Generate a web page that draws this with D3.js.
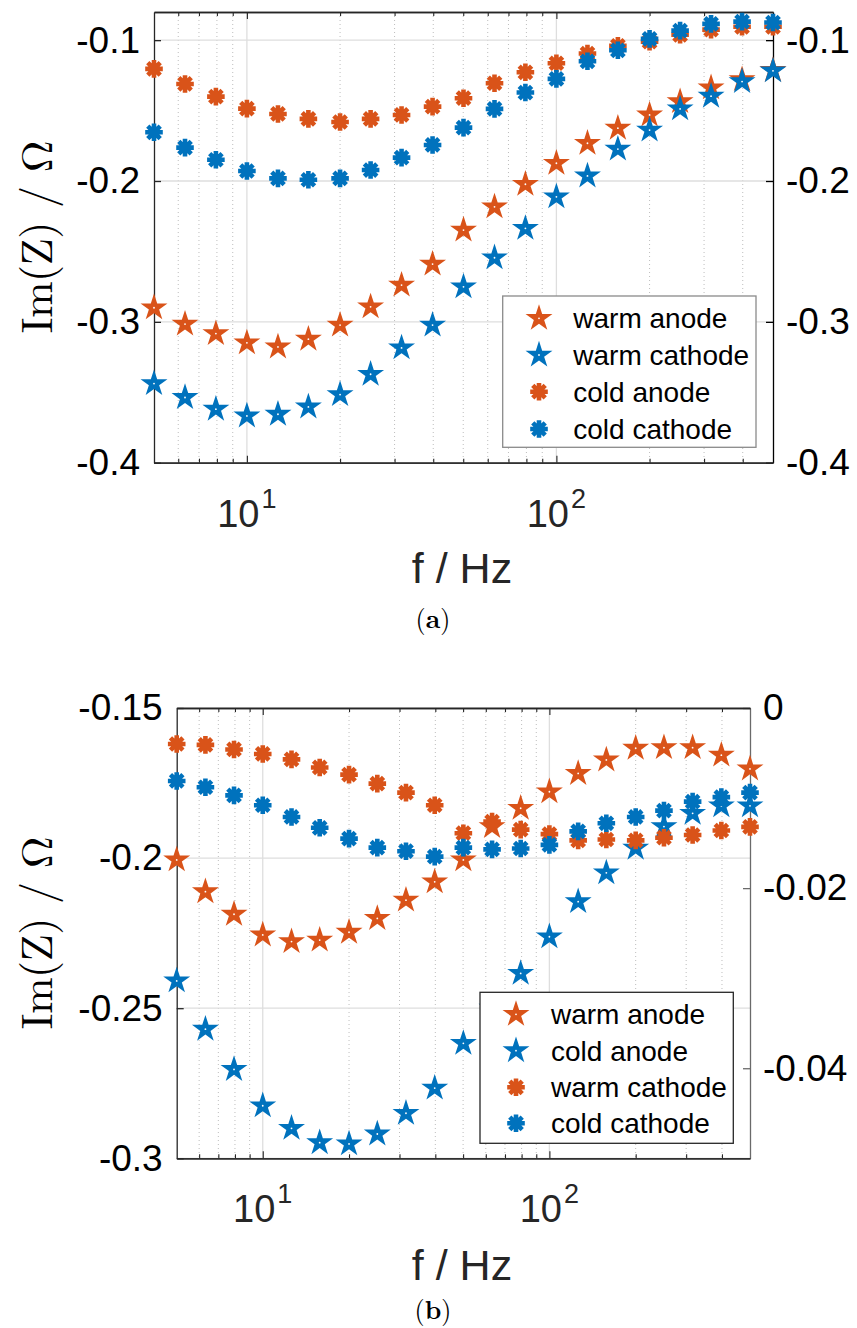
<!DOCTYPE html>
<html>
<head>
<meta charset="utf-8">
<script src="https://cdn.jsdelivr.net/npm/d3@7"></script>
<style>
  body { margin: 0; background: #fff; }
  svg { display: block; }
</style>
</head>
<body>
<svg id="chart" width="857" height="1328"></svg>
<script>
// frequencies in Hz (10 points per decade)
const freq = [5.01, 6.31, 7.94, 10, 12.6, 15.8, 20, 25.1, 31.6, 39.8, 50.1, 63.1, 79.4, 100, 126, 158, 200, 251, 316, 398, 501];

// panel (a), all on the same scale
const warmAnodeA = [-0.290, -0.3016, -0.3083, -0.3149, -0.3178, -0.3123, -0.3023, -0.2893, -0.2739, -0.259, -0.2348, -0.2183, -0.2023, -0.1874, -0.1732, -0.1625, -0.1531, -0.1436, -0.1338, -0.128, -0.1214];
const warmCathodeA = [-0.3438, -0.3537, -0.3620, -0.3668, -0.3656, -0.3604, -0.3516, -0.3372, -0.3185, -0.3023, -0.2751, -0.2545, -0.2336, -0.2112, -0.1964, -0.1773, -0.1638, -0.1488, -0.1398, -0.1294, -0.1218];
const coldAnodeA = [-0.1204, -0.1311, -0.1401, -0.1486, -0.1524, -0.1559, -0.1581, -0.1559, -0.1531, -0.1472, -0.1412, -0.1306, -0.1228, -0.1164, -0.1095, -0.1040, -0.1010, -0.0962, -0.0925, -0.0905, -0.0905];
const coldCathodeA = [-0.1654, -0.1763, -0.1849, -0.1929, -0.1981, -0.1991, -0.1981, -0.1922, -0.1834, -0.1744, -0.1621, -0.1488, -0.1372, -0.1275, -0.1150, -0.1072, -0.0991, -0.0932, -0.0884, -0.0868, -0.0875];

// panel (b), anodes on the left axis, cathodes on the right axis
const warmAnodeB = [-0.2006, -0.2112, -0.2187, -0.2256, -0.2278, -0.2273, -0.2247, -0.2201, -0.2140, -0.2079, -0.2006, -0.1895, -0.1834, -0.1779, -0.1718, -0.1673, -0.1634, -0.1632, -0.1632, -0.1657, -0.1703];
const coldAnodeB = [-0.2409, -0.2570, -0.2704, -0.2825, -0.2900, -0.2948, -0.2952, -0.2919, -0.2850, -0.2766, -0.2617, -0.2500, -0.2384, -0.2262, -0.2145, -0.2049, -0.1967, -0.1895, -0.1851, -0.1826, -0.1826];
const warmCathodeB = [-0.0040, -0.0041, -0.0046, -0.0051, -0.0057, -0.0066, -0.0074, -0.0084, -0.0094, -0.0108, -0.0139, -0.0126, -0.0135, -0.0140, -0.0147, -0.0146, -0.0147, -0.0144, -0.0141, -0.0136, -0.0132];
const coldCathodeB = [-0.0081, -0.0088, -0.0097, -0.0108, -0.0121, -0.0133, -0.0145, -0.0155, -0.0159, -0.0165, -0.0155, -0.0157, -0.0156, -0.0152, -0.0137, -0.0128, -0.0121, -0.0114, -0.0104, -0.0099, -0.0094];

const yTicksA = [-0.4, -0.3, -0.2, -0.1];
const yTicksLeftB = [-0.3, -0.25, -0.2, -0.15];
const yTicksRightB = [-0.04, -0.02, 0];
const xMajor = [10, 100];
const xMinor = [6, 7, 8, 9, 20, 30, 40, 50, 60, 70, 80, 90, 200, 300, 400];

const ORANGE = '#D95319';
const BLUE = '#0072BD';
const AXIS = '#262626';
const SANS = '"Liberation Sans", Arial, Helvetica, sans-serif';
const SERIF = '"Latin Modern Roman", "CMU Serif", "Liberation Serif", "Times New Roman", serif';

const svg = d3.select('#chart');
svg.append('rect').attr('width', 857).attr('height', 1328).attr('fill', '#fff');

function drawStar(g, x, y, color) {
  g.append('path')
    .attr('d', d3.symbol(d3.symbolStar, 225)())
    .attr('transform', `translate(${x},${y})`)
    .attr('fill', color);
  g.append('circle')
    .attr('cx', x).attr('cy', y).attr('r', 0.9)
    .attr('fill', '#fff');
}

function drawAsterisk(g, x, y, color) {
  const r = 8.8;
  const d = r * Math.SQRT1_2;
  g.append('path')
    .attr('d', `M${-r},0L${r},0M0,${-r}L0,${r}M${-d},${-d}L${d},${d}M${-d},${d}L${d},${-d}`)
    .attr('transform', `translate(${x},${y})`)
    .attr('stroke', color)
    .attr('stroke-width', 4.6)
    .attr('fill', 'none');
}

function drawPanel(cfg) {
  const g = svg.append('g');
  const x = d3.scaleLog().domain([5.01, 501]).range([cfg.left, cfg.right]);
  const yL = d3.scaleLinear().domain(cfg.leftDomain).range([cfg.bottom, cfg.top]);
  const yR = d3.scaleLinear().domain(cfg.rightDomain).range([cfg.bottom, cfg.top]);

  // grid
  g.selectAll('.minor-grid')
    .data(xMinor)
    .join('line')
    .attr('x1', (d) => x(d)).attr('x2', (d) => x(d))
    .attr('y1', cfg.top).attr('y2', cfg.bottom)
    .attr('stroke', '#bdbdbd')
    .attr('stroke-width', 1)
    .attr('stroke-dasharray', '1,3');

  g.selectAll('.major-grid-x')
    .data(xMajor)
    .join('line')
    .attr('x1', (d) => x(d)).attr('x2', (d) => x(d))
    .attr('y1', cfg.top).attr('y2', cfg.bottom)
    .attr('stroke', '#dedede')
    .attr('stroke-width', 1.3);

  g.selectAll('.major-grid-y')
    .data(cfg.leftTicks)
    .join('line')
    .attr('x1', cfg.left).attr('x2', cfg.right)
    .attr('y1', (d) => yL(d)).attr('y2', (d) => yL(d))
    .attr('stroke', '#dedede')
    .attr('stroke-width', 1.3);

  // axes, ticks pointing inwards
  const fmt = (d) => (d === 0 ? '0' : String(d));

  const leftAxis = g.append('g')
    .attr('transform', `translate(${cfg.left},0)`)
    .call(d3.axisLeft(yL).tickValues(cfg.leftTicks).tickSize(-7).tickSizeOuter(0).tickPadding(14).tickFormat(fmt));

  const rightAxis = g.append('g')
    .attr('transform', `translate(${cfg.right},0)`)
    .call(d3.axisRight(yR).tickValues(cfg.rightTicks).tickSize(-7).tickSizeOuter(0).tickPadding(13).tickFormat(fmt));

  [leftAxis, rightAxis].forEach((ax) => {
    ax.selectAll('text')
      .attr('font-family', SANS)
      .attr('font-size', 37)
      .attr('fill', '#000');
  });
  leftAxis.select('.domain').attr('stroke', AXIS).attr('stroke-width', 1.3);
  leftAxis.selectAll('.tick line').attr('stroke', AXIS).attr('stroke-width', 1.3);
  rightAxis.select('.domain').attr('stroke', cfg.rightColor).attr('stroke-width', 1.3);
  rightAxis.selectAll('.tick line').attr('stroke', cfg.rightColor).attr('stroke-width', 1.3);

  const xAxes = [
    g.append('g').attr('transform', `translate(0,${cfg.bottom})`)
      .call(d3.axisBottom(x).tickValues(xMajor).tickSize(-7).tickSizeOuter(0).tickFormat('')),
    g.append('g').attr('transform', `translate(0,${cfg.bottom})`)
      .call(d3.axisBottom(x).tickValues(xMinor).tickSize(-4).tickSizeOuter(0).tickFormat('')),
    g.append('g').attr('transform', `translate(0,${cfg.top})`)
      .call(d3.axisTop(x).tickValues(xMajor).tickSize(-7).tickSizeOuter(0).tickFormat('')),
    g.append('g').attr('transform', `translate(0,${cfg.top})`)
      .call(d3.axisTop(x).tickValues(xMinor).tickSize(-4).tickSizeOuter(0).tickFormat(''))
  ];
  xAxes.forEach((ax) => {
    ax.select('.domain').attr('stroke', AXIS).attr('stroke-width', 1.3);
    ax.selectAll('.tick line').attr('stroke', AXIS).attr('stroke-width', 1.1);
  });

  // x tick labels 10^n
  const xl = g.selectAll('.xlabel')
    .data(xMajor)
    .join('text')
    .attr('x', (d) => x(d))
    .attr('y', cfg.xTickBaseline)
    .attr('text-anchor', 'middle')
    .attr('font-family', SANS)
    .attr('fill', AXIS);
  xl.append('tspan').attr('font-size', 38).text('10');
  xl.append('tspan').attr('font-size', 27).attr('dx', 2).attr('dy', -19)
    .text((d) => String(Math.round(Math.log10(d))));

  g.append('text')
    .attr('x', 462)
    .attr('y', cfg.xLabelBaseline)
    .attr('text-anchor', 'middle')
    .attr('font-family', SANS)
    .attr('font-size', 43)
    .attr('fill', AXIS)
    .text('f / Hz');

  g.append('text')
    .attr('transform', `translate(52,${cfg.yLabelCenter}) rotate(-90)`)
    .attr('text-anchor', 'middle')
    .attr('font-family', SERIF)
    .attr('font-size', 44)
    .attr('fill', '#000')
    .attr('textLength', 193)
    .attr('lengthAdjust', 'spacing')
    .text('Im(Z) / Ω');

  // data
  cfg.series.forEach((s) => {
    const y = s.axis === 'right' ? yR : yL;
    s.values.forEach((v, i) => {
      if (s.marker === 'star') {
        drawStar(g, x(freq[i]), y(v), s.color);
      } else {
        drawAsterisk(g, x(freq[i]), y(v), s.color);
      }
    });
  });

  // legend
  const lg = cfg.legend;
  g.append('rect')
    .attr('x', lg.x).attr('y', lg.y)
    .attr('width', lg.w).attr('height', lg.h)
    .attr('fill', '#fff')
    .attr('stroke', lg.stroke)
    .attr('stroke-width', 1.3);
  cfg.series.forEach((s, i) => {
    const cy = lg.rowY[i];
    if (s.marker === 'star') {
      drawStar(g, lg.markerX, cy, s.color);
    } else {
      drawAsterisk(g, lg.markerX, cy, s.color);
    }
    g.append('text')
      .attr('x', lg.textX)
      .attr('y', cy + 10)
      .attr('font-family', SANS)
      .attr('font-size', 28)
      .attr('fill', '#000')
      .text(s.name);
  });

  // caption
  const cap = g.append('text')
    .attr('x', 433)
    .attr('y', cfg.captionBaseline)
    .attr('text-anchor', 'middle')
    .attr('font-family', SERIF)
    .attr('font-size', 26)
    .attr('fill', '#000');
  cap.append('tspan').text('(');
  cap.append('tspan').attr('font-weight', 'bold').text(cfg.caption);
  cap.append('tspan').text(')');
}

drawPanel({
  left: 154, right: 773, top: 12, bottom: 462.7,
  leftDomain: [-0.4, -0.08], rightDomain: [-0.4, -0.08],
  leftTicks: yTicksA, rightTicks: yTicksA,
  rightColor: '#000',
  xTickBaseline: 526.7, xLabelBaseline: 583, yLabelCenter: 237,
  captionBaseline: 628, caption: 'a',
  series: [
    { name: 'warm anode', values: warmAnodeA, marker: 'star', color: ORANGE, axis: 'left' },
    { name: 'warm cathode', values: warmCathodeA, marker: 'star', color: BLUE, axis: 'left' },
    { name: 'cold anode', values: coldAnodeA, marker: 'asterisk', color: ORANGE, axis: 'right' },
    { name: 'cold cathode', values: coldCathodeA, marker: 'asterisk', color: BLUE, axis: 'right' }
  ],
  legend: { x: 502.7, y: 296, w: 253.3, h: 151.3, stroke: '#8a8a8a', markerX: 539, textX: 573.3, rowY: [318.3, 355, 391.7, 429] }
});

drawPanel({
  left: 176.7, right: 750, top: 708, bottom: 1158.3,
  leftDomain: [-0.3, -0.15], rightDomain: [-0.05, 0],
  leftTicks: yTicksLeftB, rightTicks: yTicksRightB,
  rightColor: '#6a6a6a',
  xTickBaseline: 1221.7, xLabelBaseline: 1280, yLabelCenter: 933,
  captionBaseline: 1319, caption: 'b',
  series: [
    { name: 'warm anode', values: warmAnodeB, marker: 'star', color: ORANGE, axis: 'left' },
    { name: 'cold anode', values: coldAnodeB, marker: 'star', color: BLUE, axis: 'left' },
    { name: 'warm cathode', values: warmCathodeB, marker: 'asterisk', color: ORANGE, axis: 'right' },
    { name: 'cold cathode', values: coldCathodeB, marker: 'asterisk', color: BLUE, axis: 'right' }
  ],
  legend: { x: 480, y: 992.3, w: 253.3, h: 151, stroke: '#262626', markerX: 516, textX: 551, rowY: [1014.3, 1050.7, 1087.3, 1123.3] }
});
</script>
</body>
</html>
